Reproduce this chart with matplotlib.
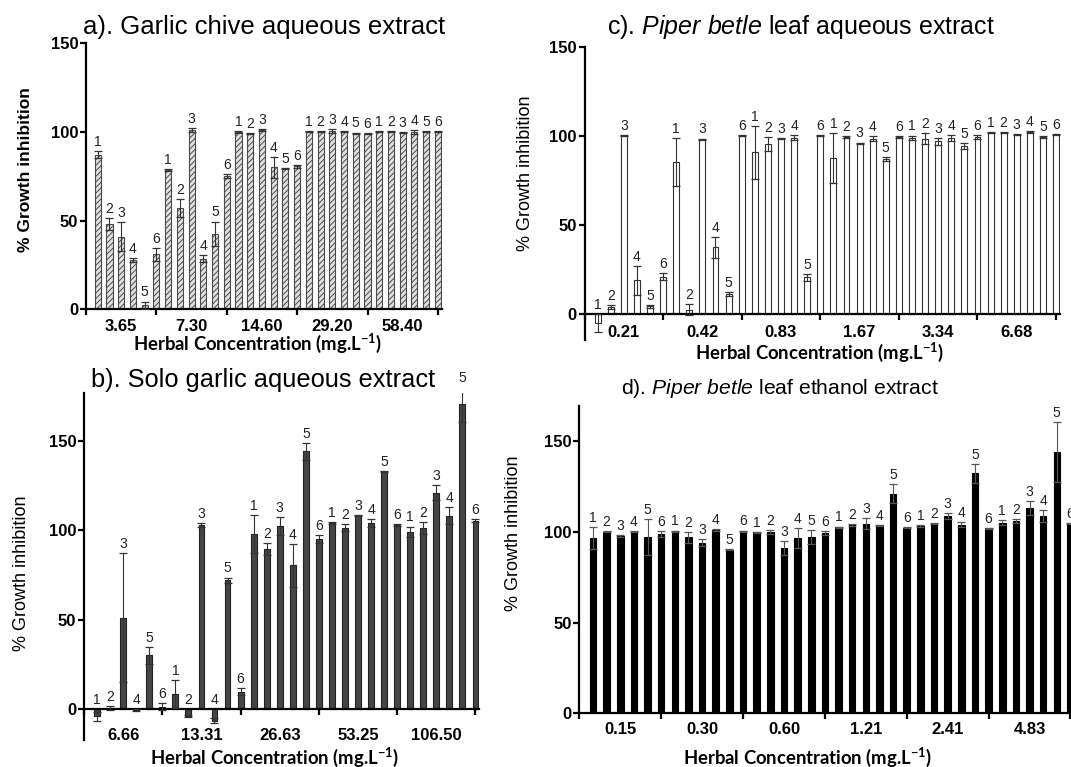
import matplotlib
matplotlib.use('Agg')
import matplotlib.pyplot as plt
from matplotlib import font_manager
import numpy as np

names = {f.name for f in font_manager.fontManager.ttflist}
SANS = 'Liberation Sans' if 'Liberation Sans' in names else 'DejaVu Sans'
NARROW = 'Liberation Sans Narrow' if 'Liberation Sans Narrow' in names else SANS
XLAB = 'Lato' if 'Lato' in names else SANS

plt.rcParams['font.family'] = SANS
plt.rcParams['mathtext.fontset'] = 'custom'
plt.rcParams['mathtext.rm'] = SANS
plt.rcParams['mathtext.it'] = SANS + ':italic'
plt.rcParams['mathtext.bf'] = XLAB + ':bold'
plt.rcParams['hatch.linewidth'] = 0.7
plt.rcParams['hatch.color'] = '#4a4a4a'

# replicate numbers shown above each bar
bar_ids = [1, 2, 3, 4, 5, 6]

# a) Garlic chive aqueous extract
conc_a = ['3.65', '7.30', '14.60', '29.20', '58.40']
mean_a = [87, 48, 41, 28, 2.5, 31,
          78.5, 57, 101, 28.5, 42.5, 75,
          100, 99, 101, 80, 79.5, 80.5,
          100, 100, 100.5, 100, 99.3, 98.9,
          100, 100, 99.5, 100, 100, 100]
err_a = [2, 3.5, 8, 1, 2, 3.5,
         0.5, 5, 1, 2, 7, 1,
         0.5, 0.5, 0.5, 6, 0.3, 1,
         0.3, 0.3, 1, 0.3, 0.3, 0.3,
         0.3, 0.3, 0.3, 1, 0.3, 0.3]

# b) Solo garlic aqueous extract
conc_b = ['6.66', '13.31', '26.63', '53.25', '106.50']
mean_b = [-4, 0.5, 51, -0.5, 30, 1.3,
          8.4, -4, 103, -6.5, 72, 9.7,
          98, 89.6, 102.4, 80.4, 144, 95,
          104, 101.3, 108.4, 104, 132.6, 103,
          99, 101, 121, 108, 170.4, 105.2]
err_b = [2.6, 1.3, 36, 0.5, 4.7, 2,
         8, 0.6, 1.1, 1.3, 1.5, 1.8,
         10.6, 3.3, 5, 12, 4.7, 2.4,
         0.6, 2, 0.3, 2, 0.3, 0.5,
         3, 3.4, 4, 4.7, 9.7, 0.8]

# c) Piper betle leaf aqueous extract
conc_c = ['0.21', '0.42', '0.83', '1.67', '3.34', '6.68']
mean_c = [-5, 4, 100, 19, 4.5, 21,
          85.5, 2.5, 98, 37.5, 11.4, 100,
          90.7, 95.3, 98.5, 99, 20.7, 100,
          87.7, 99.3, 96, 98.5, 87.1, 99.4,
          98.9, 98.5, 97, 98.9, 94.4, 99.4,
          101.7, 101.7, 100.7, 102.2, 99.4, 101]
err_c = [5, 1, 0.3, 8, 0.7, 2,
         13.5, 3, 0.5, 6, 1.3, 0.3,
         15, 4, 0.3, 1.3, 2, 0.3,
         14, 0.5, 0.3, 1.3, 1, 0.3,
         1.3, 3, 2, 1.5, 1.7, 1,
         0.3, 0.3, 0.3, 0.3, 0.6, 0.3]

# d) Piper betle leaf ethanol extract (cut off at the right edge)
conc_d = ['0.15', '0.30', '0.60', '1.21', '2.41', '4.83']
mean_d = [96.7, 100, 97.8, 100, 97, 98.7,
          100.4, 96.9, 93.9, 100.9, 90.2, 100.4,
          99.8, 99.8, 91, 96.7, 97, 99.4,
          102.6, 103.7, 104.4, 103.5, 121, 102.2,
          103.3, 104.4, 108.7, 104, 132.2, 102,
          105, 106, 112.9, 108.7, 144, 104.6]
err_d = [6, 0.3, 0.5, 0.3, 10, 1.5,
         0.3, 3, 2, 0.5, 0.3, 0.3,
         0.3, 1.2, 3.9, 5.5, 4, 1.2,
         0.3, 0.5, 3, 0.3, 5.3, 0.3,
         0.5, 0.3, 1.8, 1.3, 5.2, 0.3,
         1.4, 1, 3.9, 3.3, 16.6, 0.3]

W, H = 1071, 767
fig = plt.figure(figsize=(W / 100, H / 100), dpi=100)


def px_rect(left, top, right, bottom):
    return [left / W, 1 - bottom / H, (right - left) / W, (bottom - top) / H]


def draw_panel(rect, means, errs, concs, xlim, ylim, face, edge, hatch=None,
               ecolor='black', label_pad=3, width=0.45):
    ax = fig.add_axes(rect)
    x = np.arange(len(means))
    ax.bar(x, means, width=width, color=face, edgecolor=edge, hatch=hatch,
           linewidth=0.8, zorder=2)
    ax.errorbar(x, means, yerr=errs, fmt='none', ecolor=ecolor,
                elinewidth=0.8, capsize=3.2, capthick=0.9, zorder=3)
    for xi, m, e, n in zip(x, means, errs, bar_ids * len(concs)):
        ax.annotate(str(n), (xi, max(m + e, 0)), xytext=(0, 1.5),
                    textcoords='offset points', ha='center', va='bottom',
                    fontsize=10, family=NARROW, color='#222222',
                    annotation_clip=False)

    ax.set_xlim(*xlim)
    ax.set_ylim(*ylim)
    for s in ['top', 'right']:
        ax.spines[s].set_visible(False)
    ax.spines['left'].set_linewidth(1.6)
    ax.spines['bottom'].set_linewidth(1.6)
    ax.spines['bottom'].set_position(('data', 0))

    ax.set_yticks([0, 50, 100, 150])
    ax.set_yticklabels(['0', '50', '100', '150'], fontsize=12, fontweight='bold')
    ax.tick_params(axis='y', direction='out', length=4.5, width=1.6, pad=1)

    n = len(concs)
    ax.set_xticks([6 * k - 1 for k in range(n + 1)])
    ax.set_xticklabels([''] * (n + 1))
    ax.set_xticks([6 * k + 2 for k in range(n)], minor=True)
    ax.set_xticklabels(concs, minor=True, fontsize=12, fontweight='bold',
                       family=NARROW)
    ax.tick_params(axis='x', which='major', direction='out', length=4.5, width=1.6)
    ax.tick_params(axis='x', which='minor', length=0, pad=label_pad + 4.5)
    return ax


draw_panel(px_rect(86, 43, 442, 309.5), mean_a, err_a, conc_a,
           (-1, 29.35), (0, 150), '#e0e0e0', '#4a4a4a', hatch='//////',
           ecolor='#333333', label_pad=2, width=0.52)
draw_panel(px_rect(84, 393.3, 479.4, 740), mean_b, err_b, conc_b,
           (-1, 29.3), (-17.3, 176.5), '#454545', '#222222',
           ecolor='#333333', label_pad=9)
draw_panel(px_rect(584.5, 46.7, 1060, 340), mean_c, err_c, conc_c,
           (-1, 35.3), (-14.4, 150), 'white', '#333333',
           ecolor='#333333', label_pad=3)
draw_panel(px_rect(579.3, 406, 1071, 713.3), mean_d, err_d, conc_d,
           (-1, 35.04), (0, 169.3), 'black', 'black',
           ecolor='#555555', label_pad=2, width=0.48)


def ftext(x, y, s, **kw):
    fig.text(x / W, 1 - y / H, s, ha='center', va='center', **kw)


# panel titles
ftext(264, 27, 'a). Garlic chive aqueous extract', fontsize=18.5)
ftext(263, 380, 'b). Solo garlic aqueous extract', fontsize=18.3)
ftext(801, 27, r'c). $\it{Piper\ betle}$ leaf aqueous extract', fontsize=18)
ftext(780, 388, r'd). $\it{Piper\ betle}$ leaf ethanol extract', fontsize=15.2)

# y axis titles
ftext(26, 170, '% Growth inhibition', rotation=90, fontsize=12.5, fontweight='bold')
ftext(22, 573, '% Growth inhibition', rotation=90, fontsize=13)
ftext(525, 173, '% Growth inhibition', rotation=90, fontsize=13)
ftext(513, 533, '% Growth inhibition', rotation=90, fontsize=13)

# x axis titles
xlab = r'Herbal Concentration (mg.L$^{\mathbf{-1}}$)'
for x, y in [(258, 343), (275, 757), (820, 352), (808, 757)]:
    ftext(x, y, xlab, fontsize=13.3, fontweight='bold', family=XLAB)

fig.savefig('out.png', dpi=100)
